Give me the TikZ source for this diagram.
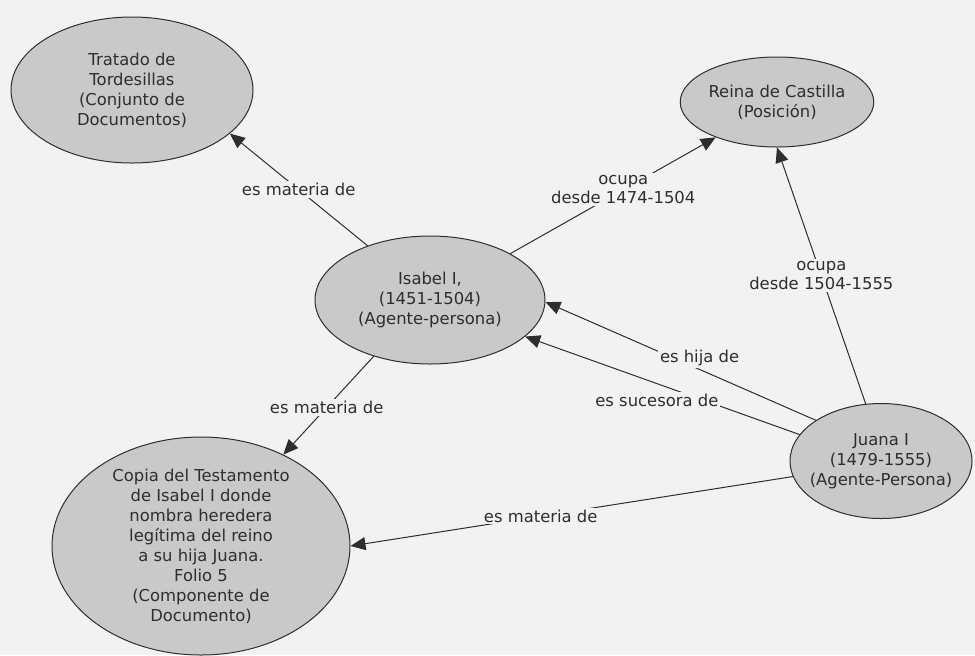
\documentclass[tikz,border=0pt]{standalone}
\usepackage{fontspec}
\setmainfont{DejaVu Sans}
\usetikzlibrary{positioning,arrows.meta,shapes.geometric}
\definecolor{bgc}{HTML}{F2F2F2}
\definecolor{ellc}{HTML}{C9C9C9}
\definecolor{inkc}{HTML}{2E2E2E}

\begin{document}
\begin{tikzpicture}[x=0.5pt,y=-0.5pt,
  font=\fontsize{8.2}{10}\selectfont,
  ent/.style={ellipse,draw=inkc,fill=ellc,line width=0.5pt,text=inkc,align=center,inner sep=0pt},
  arr/.style={-{Triangle[length=7.5pt,width=6.5pt]},draw=inkc,line width=0.5pt},
  lbl/.style={fill=bgc,text=inkc,align=center,inner sep=1pt,font=\fontsize{8.2}{9.5}\selectfont}]
  \useasboundingbox (0,0) rectangle (975,655);
  \fill[bgc] (0,0) rectangle (975,655);
  \node[ent,minimum width=121pt,minimum height=73pt] (tratado) at (132,90) {Tratado de\\Tordesillas\\(Conjunto de\\Documentos)};
  \node[ent,minimum width=87pt,minimum height=45pt] (reina) at (777,102) {Reina de Castilla\\(Posición)};
  \node[ent,minimum width=115pt,minimum height=64pt] (isabel) at (430,300) {Isabel I,\\(1451-1504)\\(Agente-persona)};
  \node[ent,minimum width=91pt,minimum height=57.5pt,inner xsep=-8pt] (juana) at (881,461) {Juana I\\(1479-1555)\\(Agente-Persona)};
  \node[ent,minimum width=149pt,minimum height=109pt,inner ysep=-5pt] (copia) at (201,546) {Copia del Testamento\\de Isabel I donde\\nombra heredera\\legítima del reino\\a su hija Juana.\\Folio 5\\(Componente de\\Documento)};
  \draw[arr] (isabel.139) -- node[lbl,pos=0.5]{es materia de} (tratado.-24);
  \draw[arr] (isabel.30) -- node[lbl,pos=0.55]{ocupa\\desde 1474-1504} (reina.210);
  \draw[arr] (juana.105) -- node[lbl,pos=0.5]{ocupa\\desde 1504-1555} (reina.270);
  \draw[arr] (juana.148) -- node[lbl,pos=0.43,yshift=5.5pt]{es hija de} (isabel.-1);
  \draw[arr] (juana.162) -- node[lbl,pos=0.52,yshift=-8.5pt]{es sucesora de} (isabel.-21);
  \draw[arr] (isabel.225) -- node[lbl,pos=0.52]{es materia de} (copia.48);
  \draw[arr] (juana.190) -- node[lbl,pos=0.57]{es materia de} (copia.0);
\end{tikzpicture}
\end{document}
